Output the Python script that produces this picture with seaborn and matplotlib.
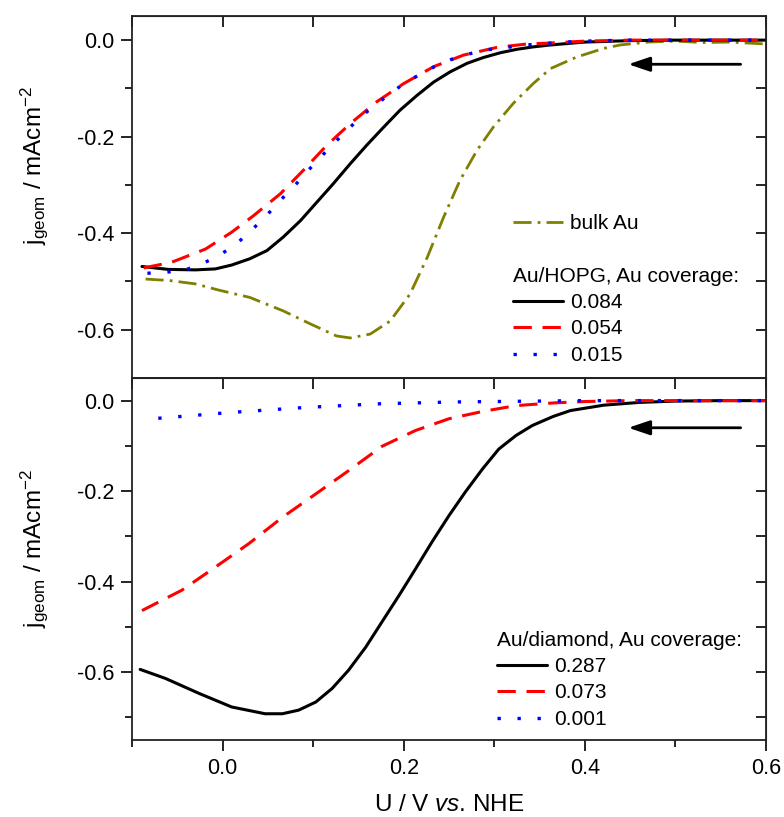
import numpy as np
import pandas as pd
import matplotlib
matplotlib.use("Agg")
import matplotlib.pyplot as plt
import seaborn as sns

# ---------------- data ----------------
# Top panel: Au/HOPG and bulk Au
hopg084_x = [-0.089, -0.06, -0.03, -0.008, 0.01, 0.03, 0.049, 0.067, 0.086, 0.104, 0.122,
             0.141, 0.159, 0.178, 0.196, 0.215, 0.233, 0.251, 0.27, 0.288, 0.307, 0.325,
             0.343, 0.362, 0.4, 0.45, 0.5, 0.55, 0.6]
hopg084_y = [-0.469, -0.475, -0.476, -0.474, -0.466, -0.453, -0.436, -0.408, -0.374, -0.336,
             -0.298, -0.256, -0.218, -0.180, -0.145, -0.114, -0.087, -0.066, -0.048, -0.036,
             -0.026, -0.019, -0.014, -0.010, -0.004, -0.001, 0.0, 0.0, 0.0]

hopg054_x = [-0.087, -0.056, -0.019, 0.01, 0.034, 0.064, 0.089, 0.115, 0.141, 0.17, 0.2,
             0.233, 0.266, 0.303, 0.336, 0.362, 0.4, 0.45, 0.5, 0.55, 0.6]
hopg054_y = [-0.472, -0.46, -0.433, -0.398, -0.364, -0.318, -0.27, -0.218, -0.173, -0.128,
             -0.090, -0.055, -0.031, -0.015, -0.008, -0.006, -0.002, 0.0, 0.0, 0.0, 0.0]

hopg015_x = [-0.083, -0.063, -0.041, -0.021, -0.002, 0.016, 0.03, 0.047, 0.06, 0.078, 0.093,
             0.11, 0.126, 0.141, 0.159, 0.178, 0.198, 0.216, 0.237, 0.259, 0.288, 0.336,
             0.37, 0.4, 0.45, 0.5, 0.55, 0.6]
hopg015_y = [-0.483, -0.481, -0.476, -0.462, -0.444, -0.421, -0.397, -0.367, -0.339, -0.305,
             -0.273, -0.239, -0.208, -0.180, -0.149, -0.121, -0.093, -0.073, -0.052, -0.035,
             -0.021, -0.010, -0.005, -0.002, 0.0, 0.0, 0.0, 0.0]

bulk_x = [-0.085, -0.059, -0.03, -0.004, 0.03, 0.067, 0.097, 0.126, 0.141, 0.163, 0.185,
          0.207, 0.226, 0.244, 0.262, 0.281, 0.299, 0.321, 0.343, 0.362, 0.391, 0.421, 0.439,
          0.47, 0.5, 0.53, 0.56, 0.6]
bulk_y = [-0.495, -0.498, -0.505, -0.518, -0.533, -0.561, -0.588, -0.613, -0.617, -0.609,
          -0.582, -0.526, -0.450, -0.367, -0.291, -0.228, -0.180, -0.131, -0.090, -0.059,
          -0.035, -0.017, -0.01, -0.004, -0.002, -0.005, -0.004, -0.008]

# Bottom panel: Au/diamond
dia287_x = [-0.091, -0.063, -0.026, 0.01, 0.047, 0.066, 0.084, 0.103, 0.121, 0.139, 0.158,
            0.176, 0.195, 0.213, 0.231, 0.25, 0.268, 0.287, 0.305, 0.324, 0.342, 0.365,
            0.384, 0.421, 0.46, 0.5, 0.55, 0.6]
dia287_y = [-0.594, -0.614, -0.647, -0.677, -0.692, -0.692, -0.684, -0.666, -0.636, -0.596,
            -0.545, -0.489, -0.430, -0.372, -0.313, -0.254, -0.202, -0.151, -0.107, -0.077,
            -0.055, -0.035, -0.022, -0.01, -0.004, -0.001, 0.0, 0.0]

dia073_x = [-0.089, -0.045, -0.008, 0.029, 0.066, 0.103, 0.139, 0.176, 0.213, 0.25, 0.287,
            0.324, 0.366, 0.4, 0.45, 0.5, 0.55, 0.6]
dia073_y = [-0.464, -0.419, -0.368, -0.316, -0.258, -0.206, -0.155, -0.101, -0.066, -0.040,
            -0.024, -0.011, -0.005, -0.002, 0.0, 0.0, 0.0, 0.0]

dia001_x = [-0.071, 0.01, 0.092, 0.173, 0.254, 0.3, 0.35, 0.4, 0.5, 0.6]
dia001_y = [-0.039, -0.026, -0.015, -0.007, -0.003, -0.002, -0.001, 0.0, 0.0, 0.0]

top_labels = ["0.084", "0.054", "0.015"]
bottom_labels = ["0.287", "0.073", "0.001"]
bulk_label = "bulk Au"
top_title = "Au/HOPG, Au coverage:"
bottom_title = "Au/diamond, Au coverage:"

xticks_major = [0.0, 0.2, 0.4, 0.6]
xticks_minor = [-0.1, 0.1, 0.3, 0.5]
yticks_major = [0.0, -0.2, -0.4, -0.6]
yticks_minor_top = [-0.1, -0.3, -0.5]
yticks_minor_bot = [-0.1, -0.3, -0.5, -0.7]

# ---------------- style ----------------
sns.set_style("ticks")
plt.rcParams["font.family"] = ["Liberation Sans", "DejaVu Sans"]
plt.rcParams["mathtext.fontset"] = "custom"
plt.rcParams["mathtext.rm"] = "Liberation Sans"
plt.rcParams["mathtext.it"] = "Liberation Sans:italic"
plt.rcParams["mathtext.bf"] = "Liberation Sans:bold"
plt.rcParams["axes.unicode_minus"] = False
plt.rcParams["text.color"] = "black"
plt.rcParams["axes.labelcolor"] = "black"
plt.rcParams["xtick.color"] = "black"
plt.rcParams["ytick.color"] = "black"
plt.rcParams["xtick.labelcolor"] = "black"
plt.rcParams["ytick.labelcolor"] = "black"

BLACK = "#000000"
RED = "#ff0000"
BLUE = "#0000ff"
OLIVE = "#808000"
LS_SOLID = "-"
LS_DASH = (0, (6.0, 3.5))
LS_DOT = (0, (1.0, 5.0))
LS_DASHDOT = (0, (6.5, 2.2, 1.0, 2.2))

fig = plt.figure(figsize=(7.84, 8.17), dpi=100)
W, H = 784, 817
L, R = 132, 766
ax1 = fig.add_axes([L / W, (H - 378) / H, (R - L) / W, 362 / H])
ax2 = fig.add_axes([L / W, (H - 740) / H, (R - L) / W, 362 / H])


def draw(ax, xs, ys, color, ls, lw, label):
    df = pd.DataFrame({"U": xs, "j": ys})
    sns.lineplot(data=df, x="U", y="j", ax=ax, color=color, linestyle=ls, lw=lw,
                 estimator=None, sort=False, label=label, legend=False)


# top panel
draw(ax1, bulk_x, bulk_y, OLIVE, LS_DASHDOT, 2.0, bulk_label)
draw(ax1, hopg084_x, hopg084_y, BLACK, LS_SOLID, 2.2, top_labels[0])
draw(ax1, hopg054_x, hopg054_y, RED, LS_DASH, 2.2, top_labels[1])
draw(ax1, hopg015_x, hopg015_y, BLUE, LS_DOT, 2.4, top_labels[2])

# bottom panel
draw(ax2, dia287_x, dia287_y, BLACK, LS_SOLID, 2.2, bottom_labels[0])
draw(ax2, dia073_x, dia073_y, RED, LS_DASH, 2.2, bottom_labels[1])
draw(ax2, dia001_x, dia001_y, BLUE, LS_DOT, 2.4, bottom_labels[2])

TICK_FS = 15.5
LAB_FS = 17.5
LEG_FS = 15

for ax, ylim, yminor in [(ax1, (-0.70, 0.05), yticks_minor_top),
                         (ax2, (-0.75, 0.05), yticks_minor_bot)]:
    ax.set_xlim(-0.1, 0.6)
    ax.set_ylim(*ylim)
    ax.set_xticks(xticks_major)
    ax.set_xticks(xticks_minor, minor=True)
    ax.set_yticks(yticks_major)
    ax.set_yticks(yminor, minor=True)
    ax.set_yticklabels([f"{v:.1f}" for v in yticks_major])
    ax.tick_params(which="major", direction="out", length=8, width=1.2,
                   labelsize=TICK_FS, pad=5, top=False, right=False)
    ax.tick_params(which="minor", direction="out", length=5, width=1.2,
                   top=False, right=False)
    for s in ax.spines.values():
        s.set_visible(True)
        s.set_linewidth(1.3)
        s.set_color("#222222")
    # inward ticks on top and right
    secx = ax.secondary_xaxis("top")
    secx.set_xticks(xticks_major + xticks_minor)
    secx.tick_params(direction="in", length=8, width=1.2, labeltop=False)
    secx.set_xticklabels([])
    secy = ax.secondary_yaxis("right")
    secy.set_yticks(yticks_major + yminor)
    secy.tick_params(direction="in", length=7.5, width=1.2, labelright=False)
    secy.set_yticklabels([])
    ax.set_ylabel(r"j$_{\mathregular{geom}}$ / mAcm$^{\mathregular{-2}}$", fontsize=LAB_FS)

ax1.tick_params(axis="x", which="both", bottom=False, labelbottom=False)
ax1.set_xlabel("")
ax2.set_xticklabels([f"{v:.1f}" for v in xticks_major])
ax2.set_xlabel(r"U / V $\mathit{vs}$. NHE", fontsize=LAB_FS)
ax2.xaxis.set_label_coords(0.5, -0.148)

ax1.yaxis.set_label_coords(-0.130, 0.586)
ax2.yaxis.set_label_coords(-0.130, 0.528)

# arrows (scan direction)
for ax, yv in [(ax1, -0.05), (ax2, -0.06)]:
    ax.annotate("", xy=(0.448, yv), xytext=(0.572, yv),
                arrowprops=dict(arrowstyle="-|>,head_length=0.65,head_width=0.22",
                                mutation_scale=20, lw=2.0, color="black",
                                shrinkA=0, shrinkB=0))

# legends
h1 = ax1.get_lines()
leg_bulk = ax1.legend([h1[0]], [bulk_label], loc="upper left",
                      bbox_to_anchor=((513 - L) / (R - L), (378 - 214) / 362),
                      frameon=False, fontsize=LEG_FS, handlelength=2.4,
                      handletextpad=0.35, borderpad=0, borderaxespad=0)
ax1.add_artist(leg_bulk)
leg_top = ax1.legend(h1[1:4], top_labels, title=top_title, loc="upper left",
                     bbox_to_anchor=((513 - L) / (R - L), (378 - 267) / 362),
                     frameon=False, fontsize=LEG_FS, title_fontsize=LEG_FS,
                     handlelength=2.4, handletextpad=0.35, labelspacing=0.36,
                     borderpad=0, borderaxespad=0, alignment="left")
leg_top._legend_box.sep = 5

h2 = ax2.get_lines()
leg_bot = ax2.legend(h2[0:3], bottom_labels, title=bottom_title, loc="upper left",
                     bbox_to_anchor=((497 - L) / (R - L), (740 - 631) / 362),
                     frameon=False, fontsize=LEG_FS, title_fontsize=LEG_FS,
                     handlelength=2.4, handletextpad=0.35, labelspacing=0.36,
                     borderpad=0, borderaxespad=0, alignment="left")
leg_bot._legend_box.sep = 5

fig.savefig("out.png", dpi=100)
